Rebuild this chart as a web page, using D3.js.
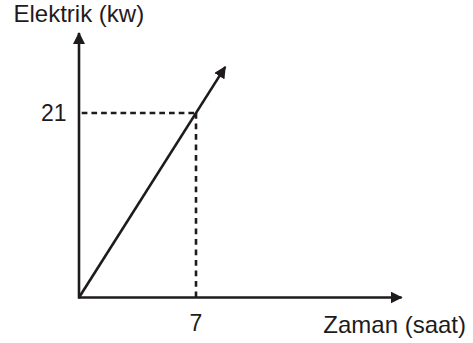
<!DOCTYPE html>
<html>
<head>
<meta charset="utf-8">
<script src="https://cdn.jsdelivr.net/npm/d3@7"></script>
<style>
  html, body { margin: 0; padding: 0; background: #fff; }
  text { font-family: "Liberation Sans", Arial, sans-serif; fill: #1f1b1c; }
</style>
</head>
<body>
<svg id="chart" width="473" height="343"></svg>
<script>
(function() {
  'use strict';

  // values
  var lineTime = [0, 8.75];     // saat
  var linePower = [0, 26.25];   // kw
  var markTime = [7];
  var markPower = [21];
  var xTickLabels = ['7'];
  var yTickLabels = ['21'];
  var xTitle = 'Zaman (saat)';
  var yTitle = 'Elektrik (kw)';
  var xAxisEnd = 19.3;
  var yAxisEnd = 30.1;

  var ink = '#1f1b1c';
  var svg = d3.select('#chart');

  var x = d3.scaleLinear().domain([0, 7]).range([79, 196]);
  var y = d3.scaleLinear().domain([0, 21]).range([297.5, 113]);

  // arrow head, tip sits at the end of the path
  svg.append('defs').append('marker')
    .attr('id', 'head')
    .attr('markerUnits', 'userSpaceOnUse')
    .attr('viewBox', '0 -6 12 12')
    .attr('refX', 11)
    .attr('refY', 0)
    .attr('markerWidth', 12)
    .attr('markerHeight', 12)
    .attr('orient', 'auto')
    .append('path')
    .attr('d', 'M0,-6L12,0L0,6Z')
    .attr('fill', ink);

  var line = d3.line()
    .x(function(d) { return x(d[0]); })
    .y(function(d) { return y(d[1]); });

  // dashed guides to the marked point
  markTime.forEach(function(t, i) {
    var p = markPower[i];
    svg.append('path')
      .attr('d', line([[0, p], [t, p]]))
      .attr('stroke', ink)
      .attr('stroke-width', 2.6)
      .attr('stroke-dasharray', '5.7,4')
      .attr('stroke-dashoffset', -2.7)
      .attr('fill', 'none');
    svg.append('path')
      .attr('d', line([[t, p], [t, 0]]))
      .attr('stroke', ink)
      .attr('stroke-width', 2.6)
      .attr('stroke-dasharray', '5.7,4.8')
      .attr('fill', 'none');
  });

  // axes
  svg.append('path')
    .attr('d', line([[0, -0.12], [0, yAxisEnd]]))
    .attr('stroke', ink)
    .attr('stroke-width', 2.6)
    .attr('fill', 'none')
    .attr('marker-end', 'url(#head)');
  svg.append('path')
    .attr('d', line([[-0.05, 0], [xAxisEnd, 0]]))
    .attr('stroke', ink)
    .attr('stroke-width', 2.6)
    .attr('fill', 'none')
    .attr('marker-end', 'url(#head)');

  // the series line
  svg.append('path')
    .attr('d', line(lineTime.map(function(t, i) { return [t, linePower[i]]; })))
    .attr('stroke', ink)
    .attr('stroke-width', 2.6)
    .attr('fill', 'none')
    .attr('marker-end', 'url(#head)');

  // tick labels
  svg.selectAll('text.xtick')
    .data(markTime)
    .enter().append('text')
    .attr('class', 'xtick')
    .attr('x', function(d) { return x(d); })
    .attr('y', 331)
    .attr('text-anchor', 'middle')
    .style('font-size', '23px')
    .text(function(d, i) { return xTickLabels[i]; });

  svg.selectAll('text.ytick')
    .data(markPower)
    .enter().append('text')
    .attr('class', 'ytick')
    .attr('x', 66.5)
    .attr('y', function(d) { return y(d) + 8; })
    .attr('text-anchor', 'end')
    .style('font-size', '23px')
    .text(function(d, i) { return yTickLabels[i]; });

  // axis titles
  svg.append('text')
    .attr('x', 13.5)
    .attr('y', 21.5)
    .style('font-size', '24px')
    .text(yTitle);
  svg.append('text')
    .attr('x', 466)
    .attr('y', 332.5)
    .attr('text-anchor', 'end')
    .style('font-size', '24px')
    .text(xTitle);
})();
</script>
</body>
</html>
